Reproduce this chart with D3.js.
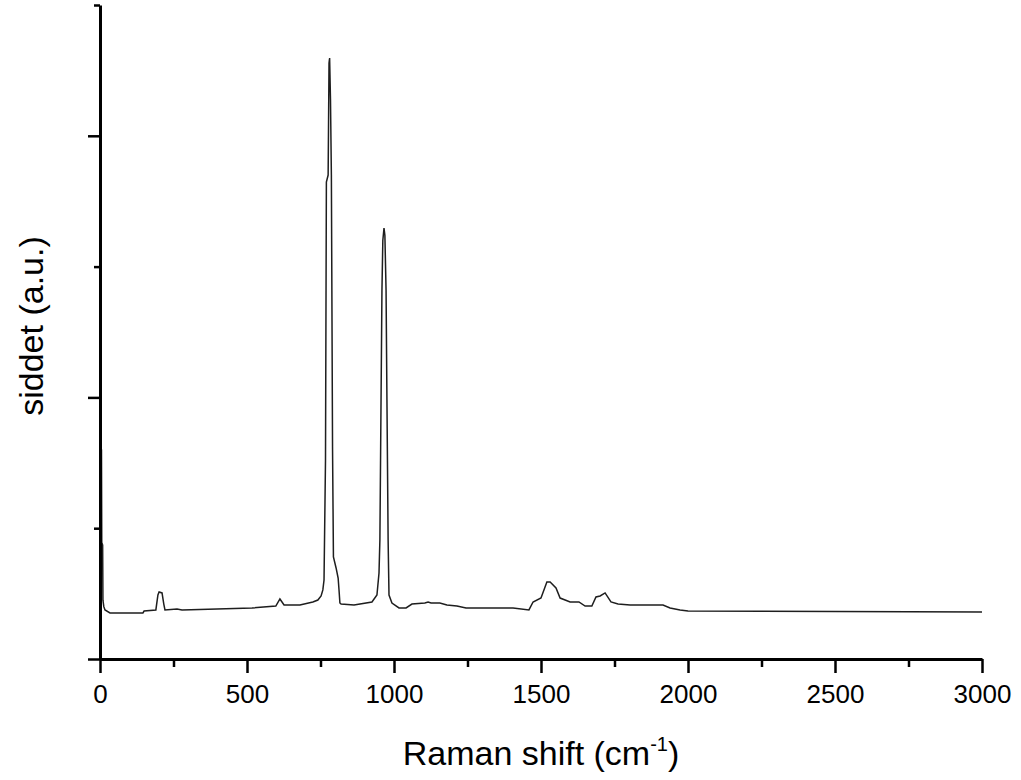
<!DOCTYPE html>
<html>
<head>
<meta charset="utf-8">
<script src="https://cdn.jsdelivr.net/npm/d3@7"></script>
<style>
  html, body { margin: 0; padding: 0; background: #ffffff; }
  svg { display: block; }
  text { font-family: "Liberation Sans", Arial, sans-serif; fill: #000; }
</style>
</head>
<body>
<svg id="chart" width="1021" height="780"></svg>
<script>
// Raman shift (cm^-1)
const shift = [0, 5, 6, 9, 10, 13, 17, 34, 146, 150, 190, 197, 201, 211, 217, 221, 262, 279, 398, 517,
  598, 612, 626, 680, 724, 741, 752, 758, 762, 767, 770, 776, 779, 781, 784, 787, 791, 794,
  803, 810, 813, 816, 820, 864, 925, 942, 949, 952, 959, 962, 966, 969, 973, 976, 980, 983,
  993, 1017, 1041, 1061, 1105, 1116, 1126, 1156, 1180, 1214, 1245, 1405, 1459, 1473, 1500,
  1520, 1531, 1551, 1565, 1582, 1599, 1629, 1650, 1673, 1687, 1701, 1718, 1738, 1762, 1803,
  1915, 1939, 1973, 2000, 3000];
// Intensity (a.u.)
const intensity = [1.62, 1.6, 0.89, 0.87, 0.45, 0.40, 0.375, 0.352, 0.352, 0.367, 0.375, 0.49, 0.512, 0.505,
  0.42, 0.375, 0.382, 0.375, 0.382, 0.39, 0.405, 0.459, 0.413, 0.413, 0.436, 0.451, 0.482,
  0.528, 0.604, 1.52, 3.647, 3.70, 4.557, 4.595, 4.274, 3.70, 1.6, 0.78, 0.696, 0.619, 0.528,
  0.428, 0.42, 0.413, 0.436, 0.489, 0.657, 0.91, 2.82, 3.20, 3.295, 3.24, 2.82, 1.98, 0.91,
  0.489, 0.428, 0.39, 0.39, 0.42, 0.428, 0.436, 0.428, 0.428, 0.413, 0.405, 0.39, 0.39, 0.375,
  0.436, 0.466, 0.589, 0.589, 0.543, 0.466, 0.451, 0.436, 0.436, 0.405, 0.405, 0.474, 0.482,
  0.505, 0.436, 0.420, 0.413, 0.413, 0.39, 0.375, 0.367, 0.36];
const xMajorTicks = [0, 500, 1000, 1500, 2000, 2500, 3000];
const xMinorTicks = [250, 750, 1250, 1750, 2250, 2750];
const yMajorTicks = [0, 2, 4];
const yMinorTicks = [1, 3, 5];
const xTitle = "Raman shift (cm";
const xTitleSup = "-1";
const yTitle = "siddet (a.u.)";

const svg = d3.select("#chart");
const mLeft = 100, mRight = 982, mTop = 5, mBottom = 659;

const x = d3.scaleLinear().domain([0, 3000]).range([mLeft, mRight]);
const y = d3.scaleLinear().domain([0, 5]).range([mBottom, mTop]);

const data = shift.map((s, i) => ({ s, v: intensity[i] }));

// line
const line = d3.line().x(d => x(d.s)).y(d => y(d.v)).curve(d3.curveLinear);
svg.append("path")
  .datum(data)
  .attr("d", line)
  .attr("fill", "none")
  .attr("stroke", "#1e1e1e")
  .attr("stroke-width", 1.5)
  .attr("stroke-linejoin", "miter");

// X axis
const gx = svg.append("g").attr("transform", `translate(0,${mBottom})`);
gx.call(d3.axisBottom(x).tickValues(xMinorTicks).tickSize(8).tickFormat(""));
gx.call(g => g.select(".domain").remove());
const gx2 = svg.append("g").attr("transform", `translate(0,${mBottom})`);
gx2.call(d3.axisBottom(x).tickValues(xMajorTicks).tickSize(14).tickSizeOuter(0).tickPadding(12).tickFormat(d3.format("d")));
gx2.select(".domain").attr("stroke", "#000").attr("stroke-width", 3);
gx2.selectAll(".tick text").style("font-size", "26px").attr("fill", "#000");

// Y axis
const gy = svg.append("g").attr("transform", `translate(${mLeft},0)`);
gy.call(d3.axisLeft(y).tickValues(yMinorTicks).tickSize(6).tickFormat(""));
gy.call(g => g.select(".domain").remove());
const gy2 = svg.append("g").attr("transform", `translate(${mLeft},0)`);
gy2.call(d3.axisLeft(y).tickValues(yMajorTicks).tickSize(12).tickSizeOuter(0).tickFormat(""));
gy2.select(".domain").attr("stroke", "#000").attr("stroke-width", 3);
svg.selectAll(".tick line").attr("stroke", "#000").attr("stroke-width", 2.5);

// X title
const xt = svg.append("text")
  .attr("x", (mLeft + mRight) / 2)
  .attr("y", 765)
  .attr("text-anchor", "middle")
  .style("font-size", "34px");
xt.append("tspan").text(xTitle);
xt.append("tspan").text(xTitleSup).attr("dy", -14).style("font-size", "20px");
xt.append("tspan").text(")").attr("dy", 14);

// Y title
svg.append("text")
  .attr("transform", `translate(43,${(mTop + mBottom) / 2 - 6}) rotate(-90)`)
  .attr("text-anchor", "middle")
  .style("font-size", "34px")
  .text(yTitle);
</script>
</body>
</html>
